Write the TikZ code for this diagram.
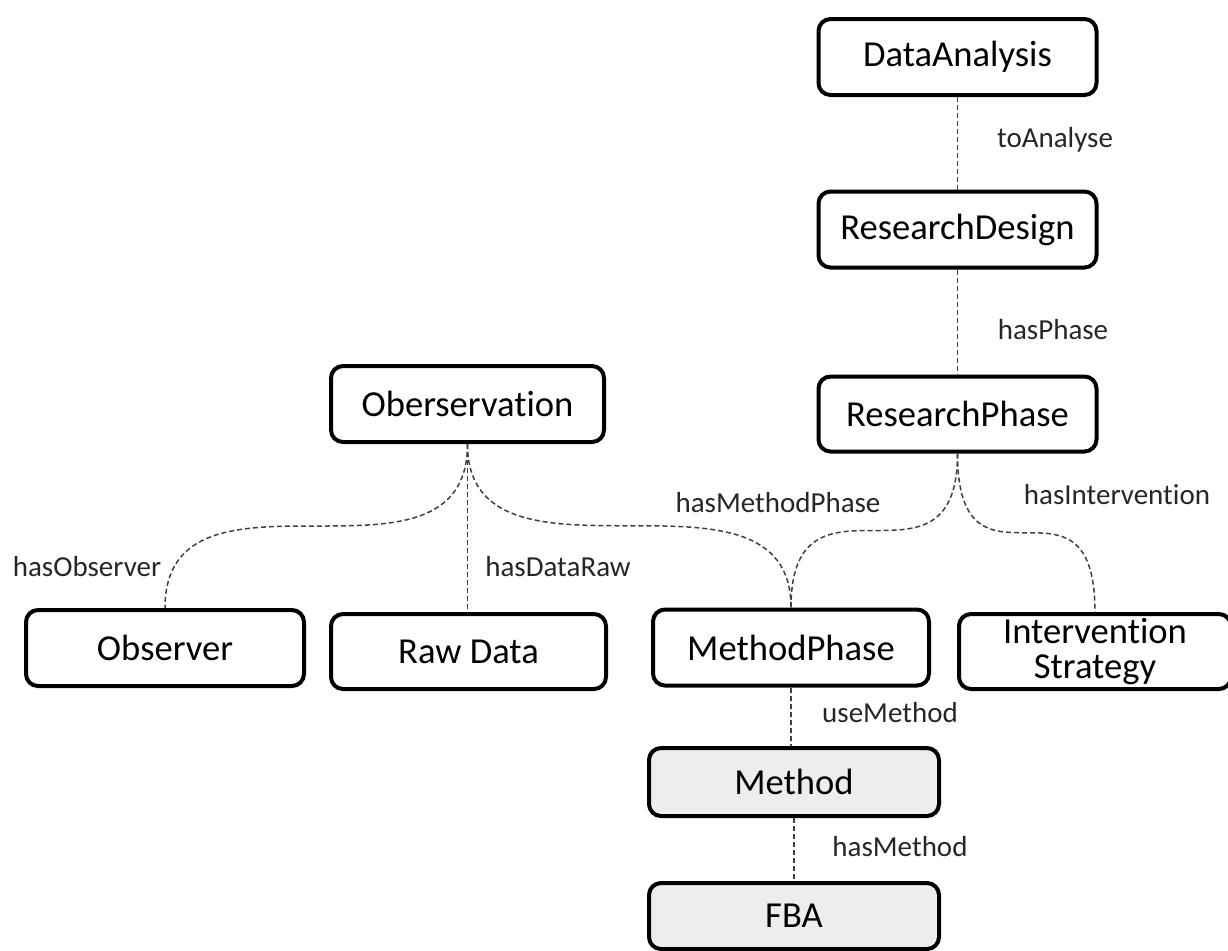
\documentclass[tikz,border=0pt]{standalone}
\usepackage{fontspec}
\setmainfont{Carlito}[Ligatures={NoCommon}]
\usetikzlibrary{positioning}
\tikzset{
  concept/.style ={rectangle, rounded corners=6pt, draw=black, line width=2pt,
                   fill=white, align=center, font=\fontsize{18.3}{17.5}\selectfont,
                   inner sep=2pt, minimum width=139pt, minimum height=38pt},
  shaded/.style  ={concept, fill=black!7},
  rel/.style     ={draw=black!75, line width=0.75pt, dash pattern=on 2.5pt off 1.5pt},
  lbl/.style     ={font=\fontsize{14.5}{16}\selectfont, text=black!85, inner sep=0pt}
}

\begin{document}
\begin{tikzpicture}[x=0.5pt,y=-0.5pt]
\useasboundingbox (0,0) rectangle (1228,950);
\clip (0,0) rectangle (1228,950);

%% ---- research side ---------------------------------------------------
\node[concept] (analysis) at (957.5,57) {DataAnalysis};
\node[concept] (design) at (957.5,229.5) {ResearchDesign};
\node[concept, minimum height=37.5pt] (rphase) at (957.5,414) {ResearchPhase};

%% ---- observation side ------------------------------------------------
\node[concept, minimum width=136.5pt] (observation) at (467.5,404) {Oberservation};
\node[concept] (observer) at (165,648) {Observer};
\node[concept, minimum width=137.5pt, minimum height=37.5pt] (rawdata)
      at (468.5,651.5) {Raw Data};

%% ---- phases and methods ----------------------------------------------
\node[concept, minimum width=138pt] (mphase) at (791,647.5) {MethodPhase};
\node[concept, minimum width=136pt, minimum height=37.5pt] (strategy)
      at (1095,651.5) {Intervention\\Strategy};
\node[shaded, minimum width=145pt, minimum height=34pt] (method) at (794,782) {Method};
\node[shaded, minimum width=145pt, minimum height=33pt] (fba) at (794,916) {FBA};

%% ---- relations -------------------------------------------------------
\draw[rel] (analysis.south) -- (design.north);
\draw[rel] (design.south) -- (rphase.north);
\draw[rel] (observation.south) -- (observation.south |- rawdata.north);
\draw[rel] (mphase.south) -- (mphase.south |- method.north);
\draw[rel] (method.south) -- (fba.north);
\draw[rel] (observation.south) .. controls (observation.south |- observer.north)
      and (observer.north |- observation.south) .. (observer.north);
\draw[rel] (observation.south) .. controls (observation.south |- mphase.north)
      and (mphase.north |- observation.south) .. (mphase.north);
\draw[rel] (rphase.south) .. controls (rphase.south |- mphase.north)
      and (mphase.north |- rphase.south) .. (mphase.north);
\draw[rel] (rphase.south) .. controls (rphase.south |- strategy.north)
      and (strategy.north |- rphase.south) .. (strategy.north);

%% ---- relation names --------------------------------------------------
\node[lbl] (lanalyse) at (1055,140) {toAnalyse};
\node[lbl] (lphase) at (1053,330) {hasPhase};
\node[lbl] (lobserver) at (87,567) {hasObserver};
\node[lbl] (lraw) at (558,567) {hasDataRaw};
\node[lbl] (lmphase) at (778,503) {hasMethodPhase};
\node[lbl] (lintervention) at (1117,495) {hasIntervention};
\node[lbl] (lusemethod) at (890,713) {useMethod};
\node[lbl] (lhasmethod) at (900,847) {hasMethod};
\end{tikzpicture}
\end{document}
